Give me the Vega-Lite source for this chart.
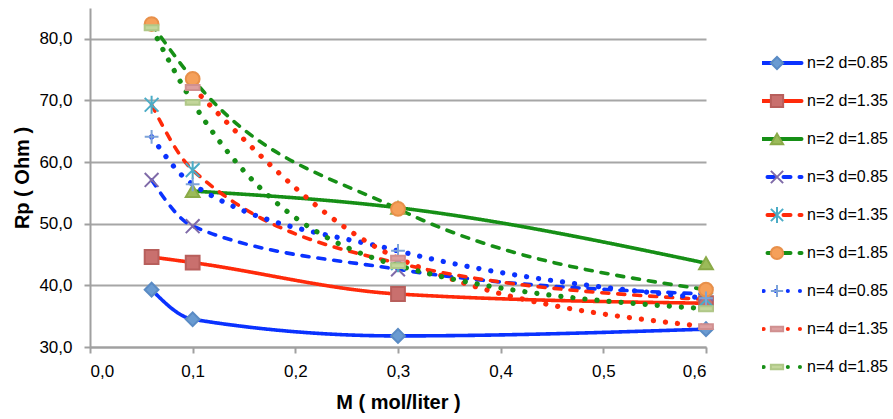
{
  "$schema": "https://vega.github.io/schema/vega-lite/v6.json",
  "width": 616,
  "height": 339,
  "autosize": {"type": "none"},
  "padding": {"left": 90, "top": 8, "right": 187, "bottom": 72},
  "background": "white",
  "config": {
    "view": {"stroke": null},
    "font": "Liberation Sans",
    "axis": {"labelFont": "Liberation Sans", "titleFont": "Liberation Sans", "labelColor": "black", "titleColor": "black"},
    "legend": {"labelFont": "Liberation Sans", "labelColor": "black"}
  },
  "data": {
    "values": [
      {"s": "n=2 d=0.85", "M": 0.06, "Rp": 39.3},
      {"s": "n=2 d=0.85", "M": 0.1, "Rp": 34.5},
      {"s": "n=2 d=0.85", "M": 0.3, "Rp": 31.8},
      {"s": "n=2 d=0.85", "M": 0.6, "Rp": 32.9},
      {"s": "n=2 d=1.35", "M": 0.06, "Rp": 44.6},
      {"s": "n=2 d=1.35", "M": 0.1, "Rp": 43.7},
      {"s": "n=2 d=1.35", "M": 0.3, "Rp": 38.6},
      {"s": "n=2 d=1.35", "M": 0.6, "Rp": 37.1},
      {"s": "n=2 d=1.85", "M": 0.1, "Rp": 55.3},
      {"s": "n=2 d=1.85", "M": 0.3, "Rp": 52.6},
      {"s": "n=2 d=1.85", "M": 0.6, "Rp": 43.6},
      {"s": "n=3 d=0.85", "M": 0.06, "Rp": 57.1},
      {"s": "n=3 d=0.85", "M": 0.1, "Rp": 49.6},
      {"s": "n=3 d=0.85", "M": 0.3, "Rp": 42.6},
      {"s": "n=3 d=0.85", "M": 0.6, "Rp": 38.6},
      {"s": "n=3 d=1.35", "M": 0.06, "Rp": 69.3},
      {"s": "n=3 d=1.35", "M": 0.1, "Rp": 58.7},
      {"s": "n=3 d=1.35", "M": 0.3, "Rp": 43.6},
      {"s": "n=3 d=1.35", "M": 0.6, "Rp": 37.7},
      {"s": "n=3 d=1.85", "M": 0.06, "Rp": 82.4},
      {"s": "n=3 d=1.85", "M": 0.1, "Rp": 73.5},
      {"s": "n=3 d=1.85", "M": 0.3, "Rp": 52.4},
      {"s": "n=3 d=1.85", "M": 0.6, "Rp": 39.3},
      {"s": "n=4 d=0.85", "M": 0.06, "Rp": 64.1},
      {"s": "n=4 d=0.85", "M": 0.1, "Rp": 56.4},
      {"s": "n=4 d=0.85", "M": 0.3, "Rp": 45.6},
      {"s": "n=4 d=0.85", "M": 0.6, "Rp": 37.9},
      {"s": "n=4 d=1.35", "M": 0.1, "Rp": 72.1},
      {"s": "n=4 d=1.35", "M": 0.3, "Rp": 44.4},
      {"s": "n=4 d=1.35", "M": 0.6, "Rp": 33.3},
      {"s": "n=4 d=1.85", "M": 0.06, "Rp": 81.8},
      {"s": "n=4 d=1.85", "M": 0.1, "Rp": 69.7},
      {"s": "n=4 d=1.85", "M": 0.3, "Rp": 43.2},
      {"s": "n=4 d=1.85", "M": 0.6, "Rp": 36.2}
    ]
  },
  "encoding": {
    "x": {
      "field": "M", "type": "quantitative",
      "scale": {"domain": [0, 0.6], "nice": false, "zero": false},
      "axis": {
        "title": "M  ( mol/liter )",
        "values": [0, 0.1, 0.2, 0.3, 0.4, 0.5, 0.6],
        "labelExpr": "replace(format(datum.value, '.1f'), '.', ',')",
        "grid": false,
        "domainColor": "#A0A0A0", "domainWidth": 2,
        "tickColor": "#A0A0A0", "tickWidth": 2, "tickSize": 6,
        "labelFontSize": 17, "labelPadding": 10,
        "titleFontSize": 20, "titleFontWeight": "bold", "titlePadding": 13
      }
    },
    "y": {
      "field": "Rp", "type": "quantitative",
      "scale": {"domain": [30, 85], "nice": false, "zero": false},
      "axis": {
        "title": "Rp  ( Ohm )",
        "values": [30, 40, 50, 60, 70, 80],
        "labelExpr": "replace(format(datum.value, '.1f'), '.', ',')",
        "grid": true, "gridColor": "#A6A6A6", "gridWidth": 2,
        "domainColor": "#A0A0A0", "domainWidth": 2,
        "tickColor": "#A0A0A0", "tickWidth": 2, "tickSize": 6,
        "labelFontSize": 17, "labelPadding": 12,
        "titleFontSize": 20, "titleFontWeight": "bold", "titlePadding": 6
      }
    },
    "color": {
      "field": "s", "type": "nominal",
      "scale": {
        "domain": ["n=2 d=0.85", "n=2 d=1.35", "n=2 d=1.85", "n=3 d=0.85", "n=3 d=1.35", "n=3 d=1.85", "n=4 d=0.85", "n=4 d=1.35", "n=4 d=1.85"],
        "range": ["#0A32FF", "#FF2A0A", "#168F16", "#0A32FF", "#FF2A0A", "#168F16", "#0A32FF", "#FF2A0A", "#168F16"]
      },
      "legend": {
        "title": null, "orient": "none", "legendX": 672, "legendY": 40,
        "symbolType": "M-2,0H2", "symbolSize": 625, "symbolStrokeWidth": 4,
        "labelFontSize": 16, "labelOffset": 16, "rowPadding": 8, "clipHeight": 30,
        "encode": {"symbols": {"update": {"strokeCap": {"value": "round"}}}}
      }
    },
    "strokeDash": {
      "field": "s", "type": "nominal",
      "scale": {
        "domain": ["n=2 d=0.85", "n=2 d=1.35", "n=2 d=1.85", "n=3 d=0.85", "n=3 d=1.35", "n=3 d=1.85", "n=4 d=0.85", "n=4 d=1.35", "n=4 d=1.85"],
        "range": [[1, 0], [1, 0], [1, 0], [7, 9], [7, 9], [7, 9], [0.1, 12], [0.1, 12], [0.1, 12]]
      },
      "legend": {
        "title": null, "orient": "none", "legendX": 672, "legendY": 40,
        "symbolType": "M-2,0H2", "symbolSize": 625, "symbolStrokeWidth": 4,
        "labelFontSize": 16, "labelOffset": 16, "rowPadding": 8, "clipHeight": 30,
        "encode": {"symbols": {"update": {"strokeCap": {"value": "round"}}}}
      }
    }
  },
  "layer": [
    {
      "transform": [{"filter": {"field": "s", "oneOf": ["n=2 d=0.85", "n=2 d=1.35", "n=2 d=1.85", "n=3 d=0.85", "n=3 d=1.35", "n=3 d=1.85"]}}],
      "mark": {"type": "line", "interpolate": "monotone", "strokeWidth": 3.6, "strokeCap": "round", "strokeJoin": "round"}
    },
    {
      "transform": [{"filter": {"field": "s", "oneOf": ["n=4 d=0.85", "n=4 d=1.35", "n=4 d=1.85"]}}],
      "mark": {"type": "line", "interpolate": "monotone", "strokeWidth": 5.2, "strokeCap": "round", "strokeJoin": "round"}
    },
    {
      "mark": {"type": "point", "size": 190, "opacity": 1, "fillOpacity": 1, "strokeWidth": 2},
      "encoding": {
        "color": null,
        "strokeDash": null,
        "shape": {
          "field": "s", "type": "nominal",
          "scale": {"range": ["diamond", "square", "triangle-up", "M-1,-1L1,1M-1,1L1,-1", "M-1,-1L1,1M-1,1L1,-1M0,-1.3V1.3", "circle", "M-1,0H1M0,-1V1", "M-1,-0.35H1V0.35H-1Z", "M-1,-0.35H1V0.35H-1Z"]},
          "legend": {
            "title": null, "orient": "none", "legendX": 679, "legendY": 40,
            "symbolSize": 150, "symbolStrokeWidth": 2, "labelFontSize": 16, "labelExpr": "''", "rowPadding": 8, "clipHeight": 30
          }
        },
        "fill": {
          "field": "s", "type": "nominal",
          "scale": {"range": ["#6A9BD1", "#C9706E", "#9BBB59", "#7F6AA8", "#4BACC6", "#F5A05A", "#7DA3D8", "#DDA0A0", "#C3D69B"]},
          "legend": {
            "title": null, "orient": "none", "legendX": 679, "legendY": 40,
            "symbolSize": 150, "symbolStrokeWidth": 2, "labelFontSize": 16, "labelExpr": "''", "rowPadding": 8, "clipHeight": 30
          }
        },
        "stroke": {
          "field": "s", "type": "nominal",
          "scale": {"range": ["#5A8BC4", "#B85F5C", "#8AAA48", "#7F6AA8", "#4BACC6", "#E8904A", "#7DA3D8", "#D09090", "#B0C888"]},
          "legend": {
            "title": null, "orient": "none", "legendX": 679, "legendY": 40,
            "symbolSize": 150, "symbolStrokeWidth": 2, "labelFontSize": 16, "labelExpr": "''", "rowPadding": 8, "clipHeight": 30
          }
        }
      }
    }
  ]
}
